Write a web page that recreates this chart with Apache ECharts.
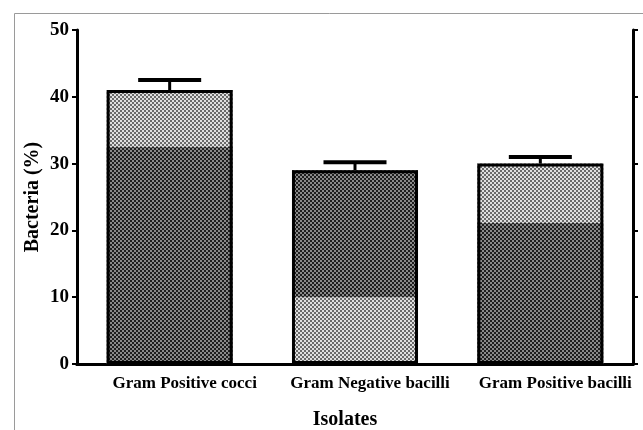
<!DOCTYPE html>
<html><head><meta charset="utf-8">
<script src="https://cdn.jsdelivr.net/npm/echarts@6/dist/echarts.min.js"></script>
<style>html,body{margin:0;padding:0;background:#fff}#c{width:643px;height:430px}</style>
</head><body><div id="c"></div>
<script>
const categories = ['Gram Positive cocci', 'Gram Negative bacilli', 'Gram Positive bacilli'];
const lowerSegment = [32.5, 10.0, 21.1];
const totals = [41.0, 29.0, 30.0];
const errorTop = [42.5, 30.2, 31.0];
const lowerIsDark = [true, false, true];
const yTicks = [0, 10, 20, 30, 40, 50];

function makePattern(a, b) {
  const c = document.createElement('canvas');
  c.width = 4; c.height = 4;
  const g = c.getContext('2d');
  g.fillStyle = a; g.fillRect(0, 0, 4, 4);
  g.fillStyle = b;
  g.fillRect(0, 0, 2, 2); g.fillRect(2, 2, 2, 2);
  return { image: c, repeat: 'repeat' };
}
const darkPat = makePattern('#1e1e1e', '#8a8a8a');
const lightPat = makePattern('#6a6a6a', '#e0e0e0');

const upper = totals.map((t, i) => +(t - lowerSegment[i]).toFixed(2));
const font = 'Liberation Serif';
const chart = echarts.init(document.getElementById('c'));
chart.setOption({
  animation: false,
  graphic: [{ type: 'rect', shape: { x: 14.5, y: 13.5, width: 700, height: 500 }, style: { fill: 'none', stroke: '#9a9a9a', lineWidth: 1 }, z: -1 }],
  grid: { left: 77, right: 10, top: 30, bottom: 66, outerBoundsMode: 'none', containLabel: false },
  xAxis: [{
    type: 'category', data: categories, position: 'bottom',
    axisLine: { lineStyle: { color: '#000', width: 3 } },
    axisTick: { alignWithLabel: true, length: 5, lineStyle: { color: '#000', width: 2 } },
    axisLabel: { color: '#000', fontFamily: font, fontWeight: 'bold', fontSize: 17, margin: 11, interval: 0, padding: [0, 0, 0, 30] },
    name: 'Isolates', nameLocation: 'middle', nameGap: 46, nameMoveOverlap: false,
    nameTextStyle: { color: '#000', fontFamily: font, fontWeight: 'bold', fontSize: 20, padding: [0, 20, 0, 0] }
  }, {
    type: 'category', data: categories, position: 'top',
    axisLine: { lineStyle: { color: '#000', width: 3 } },
    axisTick: { alignWithLabel: true, length: 5, lineStyle: { color: '#000', width: 2 } },
    axisLabel: { show: false }
  }],
  yAxis: [{
    type: 'value', min: 0, max: 50, interval: 10, position: 'left',
    axisLine: { show: true, lineStyle: { color: '#000', width: 3 } },
    axisTick: { show: true, length: 5, lineStyle: { color: '#000', width: 2 } },
    splitLine: { show: false },
    axisLabel: { color: '#000', fontFamily: font, fontWeight: 'bold', fontSize: 19, margin: 8,
      formatter: v => yTicks.includes(v) ? String(v) : '' },
    name: 'Bacteria (%)', nameLocation: 'middle', nameGap: 34, nameMoveOverlap: false,
    nameTextStyle: { color: '#000', fontFamily: font, fontWeight: 'bold', fontSize: 20 }
  }, {
    type: 'value', min: 0, max: 50, interval: 10, position: 'right',
    axisLine: { show: true, lineStyle: { color: '#000', width: 3 } },
    axisTick: { show: true, length: 5, lineStyle: { color: '#000', width: 2 } },
    splitLine: { show: false }, axisLabel: { show: false }
  }],
  series: [{
    type: 'bar', stack: 's', barWidth: '68%',
    data: lowerSegment.map((v, i) => ({ value: v, itemStyle: { color: lowerIsDark[i] ? darkPat : lightPat } }))
  }, {
    type: 'bar', stack: 's', barWidth: '68%',
    data: upper.map((v, i) => ({ value: v, itemStyle: { color: lowerIsDark[i] ? lightPat : darkPat } }))
  }, {
    type: 'bar', barWidth: '68%', barGap: '-100%', z: 3,
    data: totals,
    itemStyle: { color: 'rgba(0,0,0,0)', borderColor: '#000', borderWidth: 3 }
  }, {
    type: 'custom', z: 4,
    data: totals.map((t, i) => [i, t, errorTop[i]]),
    renderItem: function (params, api) {
      const base = api.coord([api.value(0), api.value(1)]);
      const top = api.coord([api.value(0), api.value(2)]);
      const half = api.size([1, 0])[0] * 0.68 / 4;
      return { type: 'group', children: [
        { type: 'line', shape: { x1: base[0], y1: base[1], x2: top[0], y2: top[1] }, style: { stroke: '#000', lineWidth: 3 } },
        { type: 'line', shape: { x1: top[0] - half, y1: top[1], x2: top[0] + half, y2: top[1] }, style: { stroke: '#000', lineWidth: 4 } }
      ] };
    }
  }]
});
</script></body></html>
